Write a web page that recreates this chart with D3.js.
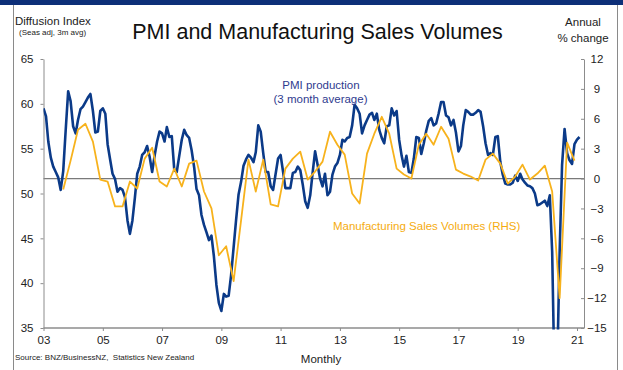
<!DOCTYPE html>
<html>
<head>
<meta charset="utf-8">
<script src="https://cdn.jsdelivr.net/npm/d3@7"></script>
<style>
  body { margin: 0; background: #fff; }
  svg { display: block; font-family: "Liberation Sans", Arial, sans-serif; }
</style>
</head>
<body>
<div id="chart"></div>
<script>
// PMI production, 3 month average, monthly from Jan 2003 (left axis)
const pmiStart = '2003-01';
const pmiValues = [
  59.5, 58.6, 55.8, 54.0, 53.0, 52.4, 51.8, 50.4, 52.5, 57.0, 61.4, 60.3,
  57.5, 56.7, 58.2, 59.4, 59.7, 60.2, 60.7, 61.1, 59.2, 56.8, 56.9, 59.2,
  59.5, 58.9, 55.5, 53.8, 52.2, 51.6, 50.2, 50.6, 50.4, 49.6, 47.0, 45.5,
  47.0, 49.6, 52.2, 53.0, 54.3, 54.6, 55.3, 54.1, 52.4, 54.2, 55.8, 56.9,
  56.7, 55.8, 57.4, 56.3, 56.4, 52.6, 52.4, 54.2, 56.0, 57.1, 56.5, 56.2,
  54.8, 52.9, 50.5, 49.8, 47.6, 46.5, 45.7, 44.8, 45.3, 43.0, 39.8, 37.8,
  36.9, 38.8, 38.5, 38.6, 40.9, 44.0, 47.0, 49.9, 51.3, 53.1, 53.8, 54.3,
  54.0, 53.5, 54.6, 57.6, 56.9, 54.5, 52.4, 52.4, 50.8, 50.4, 52.2, 53.9,
  54.3, 52.4, 50.6, 50.6, 50.6, 52.3, 52.4, 53.0, 52.6, 51.0, 49.1, 48.4,
  49.8, 52.4, 54.7, 53.2, 51.7, 50.8, 52.2, 49.8, 50.2, 52.1, 53.0, 53.4,
  54.3, 56.0, 55.8, 56.2, 56.3, 57.6, 59.9, 59.5, 58.9, 56.7, 57.6, 58.2,
  58.8, 59.0, 58.2, 58.9, 57.1, 56.2, 55.6, 57.5, 57.6, 59.5, 58.7, 59.2,
  56.0, 54.2, 53.0, 54.2, 52.4, 52.3, 53.9, 56.3, 56.2, 54.4, 55.6, 57.0,
  58.1, 58.4, 57.6, 57.8, 58.9, 60.2, 60.2, 58.7, 58.5, 57.6, 58.2, 56.8,
  54.7, 55.3, 57.6, 59.3, 59.1, 58.8, 58.8, 59.0, 59.3, 59.1, 57.5, 55.6,
  54.3, 54.5, 54.3, 56.3, 56.4, 53.5, 52.1, 51.1, 51.0, 51.0, 51.2, 52.0,
  51.4, 52.2, 51.6, 51.2, 50.9, 50.8, 50.6, 50.0, 48.7, 48.8, 49.0, 49.2,
  48.6, 49.8, 43.5, 28.0, 30.0, 43.5, 53.2, 57.2, 54.5, 53.7, 53.3, 55.5,
  56.0, 56.3
];

// Manufacturing sales volumes, annual % change, quarterly from Sep 2003 (right axis)
const salesStart = '2003-09';
const salesValues = [
  -1.1, 1.8,
  4.9, 5.5, 3.7, -0.1,
  -0.3, -2.8, -2.8, -0.3,
  -1.0, 2.0, 3.1, -0.3,
  -0.8, 1.0, -0.8, 1.5,
  1.8, -1.3, -3.0, -7.7,
  -6.8, -10.3, -4.2, 1.9,
  -1.3, 1.9, -2.6, -2.8,
  1.0, 2.0, 2.7, -0.1,
  0.7, 1.7, 4.7, 3.4,
  2.4, -1.5, -2.5, 2.5,
  4.5, 6.2, 4.5, 1.0,
  0.4, 0.0, 3.4, 4.5,
  3.4, 5.2, 4.0, 0.9,
  0.5, 0.2, -0.2, 1.9,
  2.5, 1.5, -0.5, 0.2,
  1.4, -0.1, 0.5, 1.3,
  -1.3, -12.0, 3.6, 1.8
];

// axis ticks
const leftTicks = [35, 40, 45, 50, 55, 60, 65];
const rightTicks = [-15, -12, -9, -6, -3, 0, 3, 6, 9, 12];
const yearTicks = ['2003', '2005', '2007', '2009', '2011', '2013', '2015', '2017', '2019', '2021'];

const width = 623;
const height = 370;
const parseMonth = d3.timeParse('%Y-%m');
const parseYear = d3.timeParse('%Y');

const pmiData = pmiValues.map((v, i) => ({
  date: d3.timeMonth.offset(parseMonth(pmiStart), i),
  value: v
}));
const salesData = salesValues.map((v, i) => ({
  date: d3.timeMonth.offset(parseMonth(salesStart), i * 3),
  value: v
}));

const svg = d3.select('#chart')
  .append('svg')
  .attr('width', width)
  .attr('height', height);

// header band and frame
svg.append('rect')
  .attr('x', 0).attr('y', 0)
  .attr('width', width).attr('height', 5)
  .attr('fill', '#0d2f78');
[13.5, 617.5].forEach(x => {
  svg.append('line')
    .attr('x1', x).attr('x2', x)
    .attr('y1', 5).attr('y2', height)
    .attr('stroke', '#8a8a8a')
    .attr('stroke-width', 1);
});

const x = d3.scaleTime()
  .domain([parseYear('2003'), parseYear('2021')])
  .range([43.5, 577]);
const yLeft = d3.scaleLinear().domain([35, 65]).range([328, 59]);
const yRight = d3.scaleLinear().domain([-15, 12]).range([328, 59]);

const xLeft = 43.5;
const xRight = 584;

// zero line of the right axis
svg.append('line')
  .attr('x1', xLeft).attr('x2', xRight)
  .attr('y1', yRight(0)).attr('y2', yRight(0))
  .attr('stroke', '#7a7a7a')
  .attr('stroke-width', 1.2);

// left axis
const gLeft = svg.append('g')
  .attr('transform', `translate(${xLeft},0)`)
  .call(d3.axisLeft(yLeft).tickValues(leftTicks).tickSize(3).tickSizeOuter(0).tickPadding(7));

// right axis, ticks point inward
const gRight = svg.append('g')
  .attr('transform', `translate(${xRight},0)`)
  .call(d3.axisRight(yRight).tickValues(rightTicks).tickSizeInner(-3).tickSizeOuter(0).tickPadding(13));
gRight.selectAll('text').attr('text-anchor', 'middle');

// bottom axis
const gBottom = svg.append('g')
  .attr('transform', `translate(0,${yLeft(35)})`)
  .call(d3.axisBottom(x)
    .tickValues(yearTicks.map(parseYear))
    .tickFormat(d3.timeFormat('%y'))
    .tickSize(3).tickSizeOuter(0).tickPadding(5));
gBottom.select('.domain').attr('d', `M${xLeft},0H${xRight}`).attr('stroke-width', 1.6);

[gLeft, gRight, gBottom].forEach(g => {
  g.select('.domain').attr('stroke', '#8c8c8c');
  g.selectAll('.tick line').attr('stroke', '#8c8c8c');
  g.selectAll('text')
    .attr('fill', '#222')
    .style('font-size', '11.5px')
    .style('font-family', '"Liberation Sans", Arial, sans-serif');
});

// clip so the 2020 plunge stops at the bottom axis
svg.append('clipPath').attr('id', 'plot')
  .append('rect')
  .attr('x', xLeft).attr('y', 50)
  .attr('width', xRight - xLeft).attr('height', yLeft(35) - 50 + 1.5);

const pmiLine = d3.line()
  .x(d => x(d.date))
  .y(d => yLeft(d.value));
const salesLine = d3.line()
  .x(d => x(d.date))
  .y(d => yRight(d.value));

svg.append('path')
  .datum(pmiData)
  .attr('clip-path', 'url(#plot)')
  .attr('d', pmiLine)
  .attr('fill', 'none')
  .attr('stroke', '#0b3a88')
  .attr('stroke-width', 2.6)
  .attr('stroke-linejoin', 'round');

svg.append('path')
  .datum(salesData)
  .attr('d', salesLine)
  .attr('fill', 'none')
  .attr('stroke', '#f7b21c')
  .attr('stroke-width', 1.8)
  .attr('stroke-linejoin', 'round');

// titles and labels
const addText = (txt, tx, ty, size, anchor, fill) => svg.append('text')
  .attr('x', tx).attr('y', ty)
  .attr('text-anchor', anchor || 'start')
  .attr('fill', fill || '#222')
  .style('font-size', size + 'px')
  .text(txt);

addText('PMI and Manufacturing Sales Volumes', 317.5, 38.5, 21.5, 'middle', '#111');
addText('Diffusion Index', 15, 24.5, 11.5);
addText('(Seas adj, 3m avg)', 19, 34.5, 8);
addText('Annual', 583, 26, 11.5, 'middle');
addText('% change', 583, 42, 11.5, 'middle');
addText('PMI production', 321, 89, 11.5, 'middle', '#2f3b8f');
addText('(3 month average)', 320.5, 103, 11.5, 'middle', '#2f3b8f');
addText('Manufacturing Sales Volumes (RHS)', 333, 230, 11.5, 'start', '#f5ac10');
addText('Monthly', 321, 363, 11.5, 'middle');
addText('Source: BNZ/BusinessNZ,  Statistics New Zealand', 15, 359.5, 8)
  .style('white-space', 'pre');
</script>
</body>
</html>
